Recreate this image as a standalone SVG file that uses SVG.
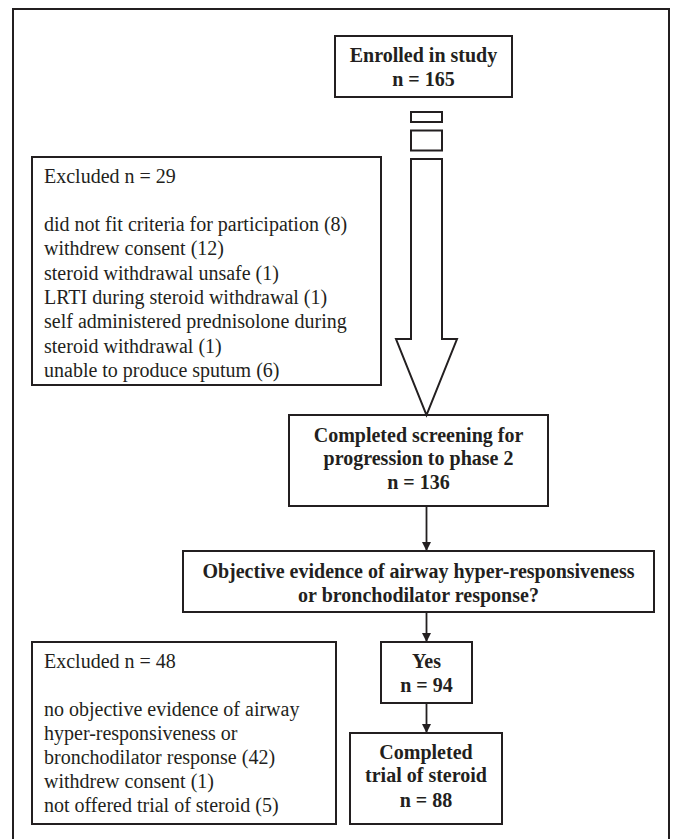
<svg xmlns="http://www.w3.org/2000/svg" width="675" height="839" viewBox="0 0 675 839">
<style>
.box{fill:#fff;stroke:#231f20;stroke-width:2}
.b{font-family:"Liberation Serif","Times New Roman",serif;font-weight:bold;font-size:20px;fill:#231f20;text-anchor:middle}
.r{font-family:"Liberation Serif","Times New Roman",serif;font-size:20px;fill:#231f20}
.ln{stroke:#231f20;stroke-width:1.8;fill:none}
</style>
<defs>
<marker id="ah" viewBox="0 0 10 10" refX="10" refY="5" markerWidth="10" markerHeight="9" markerUnits="userSpaceOnUse" orient="auto"><path d="M0,0 L10,5 L0,10 Z" fill="#231f20"/></marker>
</defs>
<rect width="675" height="839" fill="#fff"/>
<path d="M13,839 V9 H669 V839" fill="none" stroke="#231f20" stroke-width="2"/>

<g id="enrolled">
<rect class="box" x="335" y="36" width="177" height="61"/>
<text class="b" x="423.5" y="62">Enrolled in study</text>
<text class="b" x="423.5" y="86">n = 165</text>
</g>

<g id="excluded1">
<rect class="box" x="32" y="157" width="349" height="228"/>
<text class="r" x="44" y="182.5">Excluded n = 29</text>
<text class="r" x="44" y="231">did not fit criteria for participation (8)</text>
<text class="r" x="44" y="255.3">withdrew consent (12)</text>
<text class="r" x="44" y="279.6">steroid withdrawal unsafe (1)</text>
<text class="r" x="44" y="303.9">LRTI during steroid withdrawal (1)</text>
<text class="r" x="44" y="328.2">self administered prednisolone during</text>
<text class="r" x="44" y="352.5">steroid withdrawal (1)</text>
<text class="r" x="44" y="376.8">unable to produce sputum (6)</text>
</g>

<g id="screening">
<rect class="box" x="289" y="415" width="259" height="91"/>
<text class="b" x="418.5" y="442">Completed screening for</text>
<text class="b" x="418.5" y="465">progression to phase 2</text>
<text class="b" x="418.5" y="488.5">n = 136</text>
</g>

<g id="objective">
<rect class="box" x="183" y="551" width="471" height="61"/>
<text class="b" x="418.5" y="577.5">Objective evidence of airway hyper-responsiveness</text>
<text class="b" x="418.5" y="601.5">or bronchodilator response?</text>
</g>

<g id="excluded2">
<rect class="box" x="32" y="642" width="304" height="182"/>
<text class="r" x="44" y="668">Excluded n = 48</text>
<text class="r" x="44" y="716">no objective evidence of airway</text>
<text class="r" x="44" y="740">hyper-responsiveness or</text>
<text class="r" x="44" y="764">bronchodilator response (42)</text>
<text class="r" x="44" y="788">withdrew consent (1)</text>
<text class="r" x="44" y="812">not offered trial of steroid (5)</text>
</g>

<g id="yes">
<rect class="box" x="381" y="642" width="91" height="61"/>
<text class="b" x="426.5" y="668">Yes</text>
<text class="b" x="426.5" y="692">n = 94</text>
</g>

<g id="trial">
<rect class="box" x="350" y="733" width="152" height="91"/>
<text class="b" x="426" y="759">Completed</text>
<text class="b" x="426" y="782">trial of steroid</text>
<text class="b" x="426" y="806.5">n = 88</text>
</g>

<g id="connectors">
<rect class="box" x="411" y="112" width="31" height="10"/>
<rect class="box" x="411" y="130.5" width="31" height="20"/>
<polygon class="box" points="411,159 442,159 442,339 457,339 426.5,415 396,339 411,339"/>
<line class="ln" x1="426.5" y1="506" x2="426.5" y2="551" marker-end="url(#ah)"/>
<line class="ln" x1="426.5" y1="612" x2="426.5" y2="642" marker-end="url(#ah)"/>
<line class="ln" x1="426.5" y1="703" x2="426.5" y2="733" marker-end="url(#ah)"/>
</g>
</svg>
